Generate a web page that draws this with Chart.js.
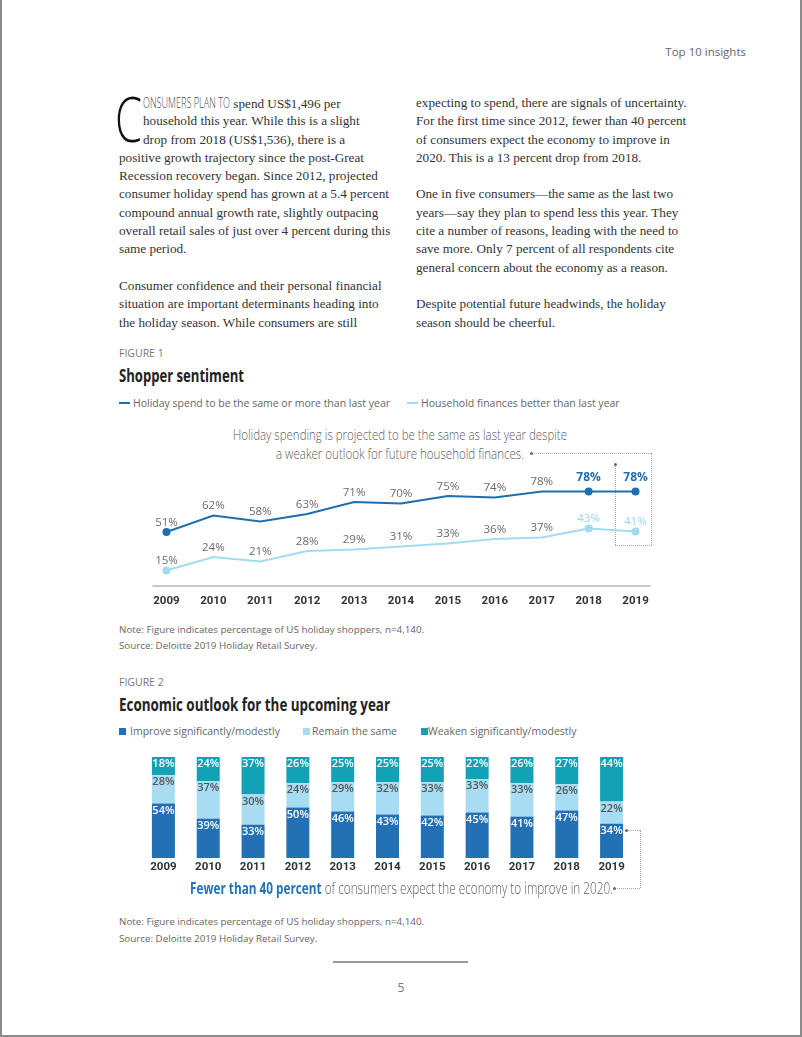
<!DOCTYPE html>
<html>
<head>
<meta charset="utf-8">
<script src="https://cdn.jsdelivr.net/npm/chart.js@4.4.1/dist/chart.umd.min.js"></script>
<style>
  body { margin: 0; background: #fff; }
  #page { position: relative; width: 802px; height: 1037px; overflow: hidden; background: #fff; }
  .frame { position: absolute; left: 0; top: 0; width: 802px; height: 1037px; box-sizing: border-box;
           border-left: 2px solid #8c8c8c; border-right: 2px solid #8c8c8c; border-bottom: 2px solid #8c8c8c; pointer-events: none; }
  .t { position: absolute; white-space: nowrap; line-height: 16px; }
  .sans { font-family: 'Open Sans', sans-serif; color: #666; }
  .fit { transform-origin: left top; }
  .col { position: absolute; top: 94px; font-family: 'Liberation Serif', serif; font-size: 13.2px; line-height: 18.3px; color: #333; white-space: nowrap; }
  .col div { height: 18.3px; }
  .ind { padding-left: 24px; }
  .dot { position: absolute; width: 3px; height: 3px; border-radius: 50%; background: #666; }
  .dl { position: absolute; border: 0 dotted #aaa; }
  canvas { position: absolute; }
</style>
</head>
<body>
<div id="page">
  <div class="t sans" style="right:56px; top:44px; font-size:11.5px;">Top 10 insights</div>

  <!-- texte en deux colonnes -->
  <svg style="position:absolute; left:115px; top:96px; overflow:visible;" width="28" height="47">
    <text id="lettrine" x="0" y="45.5" font-family="Open Sans, sans-serif" font-weight="300" font-size="62" fill="#111">C</text>
  </svg>
  <div class="col" style="left:119px;">
    <div class="ind"><span id="capitales" class="fit" style="display:inline-block; font-family:'Open Sans',sans-serif; font-weight:300; color:#4a4a4a; font-size:14.5px; line-height:18px;">ONSUMERS PLAN TO</span> spend US$1,496 per</div>
    <div class="ind">household this year. While this is a slight</div>
    <div class="ind">drop from 2018 (US$1,536), there is a</div>
    <div>positive growth trajectory since the post-Great</div>
    <div>Recession recovery began. Since 2012, projected</div>
    <div>consumer holiday spend has grown at a 5.4 percent</div>
    <div>compound annual growth rate, slightly outpacing</div>
    <div>overall retail sales of just over 4 percent during this</div>
    <div>same period.</div>
    <div></div>
    <div>Consumer confidence and their personal financial</div>
    <div>situation are important determinants heading into</div>
    <div>the holiday season. While consumers are still</div>
  </div>
  <div class="col" style="left:416px;">
    <div>expecting to spend, there are signals of uncertainty.</div>
    <div>For the first time since 2012, fewer than 40 percent</div>
    <div>of consumers expect the economy to improve in</div>
    <div>2020. This is a 13 percent drop from 2018.</div>
    <div></div>
    <div>One in five consumers—the same as the last two</div>
    <div>years—say they plan to spend less this year. They</div>
    <div>cite a number of reasons, leading with the need to</div>
    <div>save more. Only 7 percent of all respondents cite</div>
    <div>general concern about the economy as a reason.</div>
    <div></div>
    <div>Despite potential future headwinds, the holiday</div>
    <div>season should be cheerful.</div>
  </div>

  <!-- figure 1 -->
  <div class="t sans" style="left:119px; top:345px; font-size:10.5px; color:#777;">FIGURE 1</div>
  <div id="titre1" class="t fit" style="left:119px; top:363px; font-family:'Open Sans',sans-serif; font-size:18px; line-height:24px; font-weight:bold; color:#222;">Shopper sentiment</div>
  <div style="position:absolute; left:119px; top:402px; width:11px; height:1.5px; background:#1d6fae;"></div>
  <div class="t sans" style="left:133px; top:395px; font-size:10.5px;">Holiday spend to be the same or more than last year</div>
  <div style="position:absolute; left:407px; top:402px; width:11px; height:1.5px; background:#a3dbf1;"></div>
  <div class="t sans" style="left:421px; top:395px; font-size:10.5px;">Household finances better than last year</div>

  <div id="note1a" class="t fit" style="left:233px; top:427px; font-family:'Open Sans',sans-serif; font-weight:300; font-size:13.8px; line-height:16px; color:#5e5e5e;">Holiday spending is projected to be the same as last year despite</div>
  <div id="note1b" class="t fit" style="left:276px; top:446px; font-family:'Open Sans',sans-serif; font-weight:300; font-size:13.8px; line-height:16px; color:#5e5e5e;">a weaker outlook for future household finances.</div>
  <div class="dot" style="left:530px; top:452px;"></div>
  <div class="dl" style="left:534px; top:453px; width:117px; border-top-width:1px;"></div>
  <div class="dl" style="left:651px; top:453px; height:92px; border-left-width:1px;"></div>
  <div class="dl" style="left:615px; top:545px; width:37px; border-top-width:1px;"></div>
  <div class="dl" style="left:615px; top:466px; height:79px; border-left-width:1px;"></div>
  <div class="dot" style="left:614px; top:463px;"></div>

  <canvas id="chart1" style="left:137px; top:454px;" width="528" height="156"></canvas>

  <div class="t sans" style="left:119px; top:622px; font-size:9.8px;">Note: Figure indicates percentage of US holiday shoppers, n=4,140.</div>
  <div class="t sans" style="left:119px; top:638px; font-size:9.8px;">Source: Deloitte 2019 Holiday Retail Survey.</div>

  <!-- figure 2 -->
  <div class="t sans" style="left:119px; top:674px; font-size:10.5px; color:#777;">FIGURE 2</div>
  <div id="titre2" class="t fit" style="left:119px; top:692px; font-family:'Open Sans',sans-serif; font-size:18px; line-height:24px; font-weight:bold; color:#222;">Economic outlook for the upcoming year</div>
  <div style="position:absolute; left:119px; top:728px; width:7px; height:7px; background:#2371b4;"></div>
  <div class="t sans" style="left:130px; top:723px; font-size:10.5px;">Improve significantly/modestly</div>
  <div style="position:absolute; left:303px; top:728px; width:7px; height:7px; background:#a8dcf3;"></div>
  <div class="t sans" style="left:312px; top:723px; font-size:10.5px;">Remain the same</div>
  <div style="position:absolute; left:421px; top:728px; width:7px; height:7px; background:#13a1b5;"></div>
  <div class="t sans" style="left:428px; top:723px; font-size:10.5px;">Weaken significantly/modestly</div>

  <canvas id="chart2" style="left:141px; top:750px;" width="493" height="130"></canvas>

  <div id="note2" class="t fit" style="left:190px; top:877px; font-family:'Open Sans',sans-serif; font-weight:300; font-size:16.5px; line-height:22px; color:#5e5e5e;"><b style="color:#1f73b9; font-weight:700;">Fewer than 40 percent</b> of consumers expect the economy to improve in 2020.</div>
  <div class="dot" style="left:613px; top:887px;"></div>
  <div class="dl" style="left:617px; top:888px; width:23px; border-top-width:1px;"></div>
  <div class="dl" style="left:640px; top:830px; height:58px; border-left-width:1px;"></div>
  <div class="dl" style="left:628px; top:830px; width:12px; border-top-width:1px;"></div>
  <div class="dot" style="left:625px; top:829px;"></div>

  <div class="t sans" style="left:119px; top:914px; font-size:9.8px;">Note: Figure indicates percentage of US holiday shoppers, n=4,140.</div>
  <div class="t sans" style="left:119px; top:931px; font-size:9.8px;">Source: Deloitte 2019 Holiday Retail Survey.</div>

  <div style="position:absolute; left:333px; top:961px; width:135px; height:1.5px; background:#999;"></div>
  <div class="t sans" style="left:0; width:802px; text-align:center; top:980px; font-size:12px; color:#777;">5</div>

  <div class="frame"></div>
</div>

<script>
// Données
const annees = ['2009', '2010', '2011', '2012', '2013', '2014', '2015', '2016', '2017', '2018', '2019'];
const depenseMemeOuPlus = [51, 62, 58, 63, 71, 70, 75, 74, 78, 78, 78];
const financesMeilleures = [15, 24, 21, 28, 29, 31, 33, 36, 37, 43, 41];

const ameliorer = [54, 39, 33, 50, 46, 43, 42, 45, 41, 47, 34];
const pareil = [28, 37, 30, 24, 29, 32, 33, 33, 33, 26, 22];
const affaiblir = [18, 24, 37, 26, 25, 25, 25, 22, 26, 27, 44];

const bleuFonce = '#1d6fae';
const bleuClair = '#a3dbf1';
const policeAxe = "Roboto, sans-serif";

// Police condensée : on resserre le texte horizontalement jusqu'à la largeur voulue
function ajusterLargeur(id, cible, enLigne) {
    const el = document.getElementById(id);
    el.style.transform = '';
    el.style.marginRight = '';
    const largeur = el.getBoundingClientRect().width;
    el.style.transform = `scaleX(${cible / largeur})`;
    if (enLigne) el.style.marginRight = (cible - largeur) + 'px';
}
function toutAjuster() {
    // la lettrine est en SVG pour que sa boîte reste dans la hauteur de trois lignes
    const lettrine = document.getElementById('lettrine');
    const l = lettrine.getComputedTextLength();
    lettrine.setAttribute('transform', `scale(${27 / l}, 1)`);

    ajusterLargeur('capitales', 87, true);
    ajusterLargeur('titre1', 125);
    ajusterLargeur('titre2', 271);
    ajusterLargeur('note1a', 334);
    ajusterLargeur('note1b', 248);
    ajusterLargeur('note2', 423);
}
toutAjuster();

Chart.defaults.animation = false;
Chart.defaults.plugins.legend.display = false;
Chart.defaults.plugins.tooltip.enabled = false;

// Étiquettes au-dessus des points + ligne de base
const etiquettesLigne = {
    id: 'etiquettesLigne',
    afterDatasetsDraw(chart) {
        const ctx = chart.ctx;
        const x = chart.scales.x;
        ctx.save();
        // ligne de base grise
        ctx.strokeStyle = '#c8c8c8';
        ctx.lineWidth = 2;
        ctx.beginPath();
        ctx.moveTo(x.getPixelForValue(0) - 14, chart.chartArea.bottom + 1);
        ctx.lineTo(x.getPixelForValue(10) + 15, chart.chartArea.bottom + 1);
        ctx.stroke();

        ctx.textAlign = 'center';
        ctx.textBaseline = 'middle';
        chart.data.datasets.forEach((ds, di) => {
            chart.getDatasetMeta(di).data.forEach((pt, i) => {
                const recent = i >= 9;
                let dy = 9.5;
                if (di === 0 && recent) {
                    ctx.font = "bold 12px 'Open Sans', sans-serif";
                    ctx.fillStyle = '#1f6db0';
                    dy = 14;
                } else if (di === 1 && recent) {
                    ctx.font = "11.5px 'Open Sans', sans-serif";
                    ctx.fillStyle = '#9dd7ef';
                } else {
                    ctx.font = "11.5px 'Open Sans', sans-serif";
                    ctx.fillStyle = '#6a6a6a';
                }
                ctx.fillText(ds.data[i] + '%', pt.x, pt.y - dy);
            });
        });
        ctx.restore();
    }
};

const pointsVisibles = [3, 0, 0, 0, 0, 0, 0, 0, 0, 3, 3];

new Chart(document.getElementById('chart1'), {
    type: 'line',
    data: {
        labels: annees,
        datasets: [{
            data: depenseMemeOuPlus,
            borderColor: bleuFonce,
            backgroundColor: bleuFonce,
            borderWidth: 2,
            pointRadius: pointsVisibles,
            tension: 0,
            yAxisID: 'y'
        }, {
            data: financesMeilleures,
            borderColor: bleuClair,
            backgroundColor: bleuClair,
            borderWidth: 2,
            pointRadius: pointsVisibles,
            tension: 0,
            yAxisID: 'y2'
        }]
    },
    options: {
        responsive: false,
        layout: { padding: 0 },
        scales: {
            x: {
                offset: true,
                grid: { display: false, drawTicks: false },
                border: { display: false },
                ticks: { color: '#333', padding: 9, font: { family: policeAxe, size: 11.5, weight: 'bold' } },
                afterFit(scale) { scale.height = 25; }
            },
            // les deux courbes sont décalées dans le graphique original
            y: { display: false, min: 15.67, max: 99 },
            y2: { display: false, min: 5.33, max: 88.67 }
        }
    },
    plugins: [etiquettesLigne]
});

// Étiquettes dans les segments de barres
const etiquettesBarres = {
    id: 'etiquettesBarres',
    afterDatasetsDraw(chart) {
        const ctx = chart.ctx;
        ctx.save();
        ctx.textAlign = 'center';
        ctx.textBaseline = 'middle';
        ctx.font = "600 11px 'Open Sans', sans-serif";
        chart.data.datasets.forEach((ds, di) => {
            ctx.fillStyle = di === 1 ? '#555' : '#fff';
            chart.getDatasetMeta(di).data.forEach((bar, i) => {
                ctx.fillText(ds.data[i] + '%', bar.x, bar.y + 7);
            });
        });
        ctx.restore();
    }
};

new Chart(document.getElementById('chart2'), {
    type: 'bar',
    data: {
        labels: annees,
        datasets: [
            { label: 'Improve significantly/modestly', data: ameliorer, backgroundColor: '#2371b4' },
            { label: 'Remain the same', data: pareil, backgroundColor: '#a8dcf3' },
            { label: 'Weaken significantly/modestly', data: affaiblir, backgroundColor: '#13a1b5' }
        ]
    },
    options: {
        responsive: false,
        layout: { padding: { top: 7 } },
        datasets: { bar: { barPercentage: 0.513, categoryPercentage: 1, borderWidth: 0 } },
        scales: {
            x: {
                stacked: true,
                grid: { display: false, drawTicks: false },
                border: { display: false },
                ticks: { color: '#333', padding: 2, font: { family: policeAxe, size: 11.5, weight: 'bold' } },
                afterFit(scale) { scale.height = 22; }
            },
            y: { stacked: true, display: false, min: 0, max: 100 }
        }
    },
    plugins: [etiquettesBarres]
});
</script>
</body>
</html>
